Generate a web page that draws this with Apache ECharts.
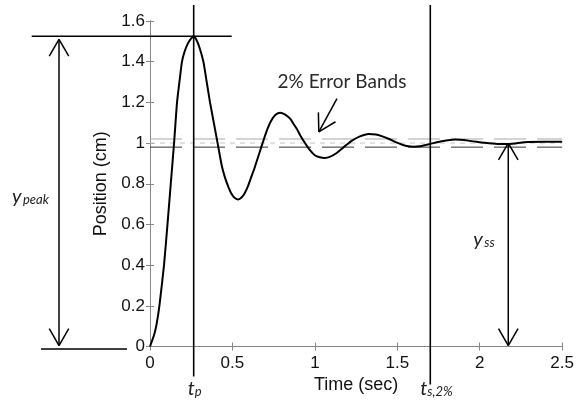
<!DOCTYPE html>
<html>
<head>
<meta charset="utf-8">
<script src="https://cdn.jsdelivr.net/npm/echarts@6/dist/echarts.min.js"></script>
<style>
html,body{margin:0;padding:0;background:#fff;}
#c{width:577px;height:401px;}
</style>
</head>
<body>
<div id="c"></div>
<script>
// ---- data ----
const timeSec = [0,0.026,0.04,0.057,0.085,0.106,0.126,0.146,0.164,0.18,0.194,0.21,0.23,0.25,0.265,0.28,0.30,0.324,0.344,0.364,0.387,0.41,0.435,0.455,0.475,0.495,0.515,0.535,0.555,0.575,0.595,0.615,0.635,0.655,0.675,0.695,0.715,0.735,0.76,0.79,0.82,0.85,0.87,0.89,0.91,0.94,0.97,1.00,1.03,1.06,1.09,1.13,1.16,1.19,1.225,1.27,1.325,1.37,1.405,1.45,1.49,1.53,1.566,1.60,1.637,1.67,1.70,1.77,1.85,1.93,2.03,2.11,2.18,2.27,2.39,2.50];
const position = [0,0.06,0.11,0.20,0.40,0.60,0.80,1.00,1.20,1.31,1.40,1.45,1.49,1.515,1.525,1.51,1.47,1.40,1.30,1.20,1.10,1.00,0.89,0.83,0.785,0.75,0.73,0.723,0.732,0.755,0.79,0.835,0.88,0.93,0.98,1.03,1.075,1.11,1.138,1.149,1.14,1.12,1.095,1.07,1.04,1.00,0.965,0.94,0.93,0.927,0.932,0.95,0.97,0.99,1.012,1.032,1.045,1.042,1.034,1.02,1.005,0.992,0.984,0.982,0.984,0.99,0.996,1.009,1.017,1.012,1.001,0.996,0.996,1.004,1.006,1.006];
const bandLevels = [1.02, 1.0, 0.98];
const xTicks = [0, 0.5, 1, 1.5, 2, 2.5];
const yTicks = [0, 0.2, 0.4, 0.6, 0.8, 1, 1.2, 1.4, 1.6];
const peakTime = 0.265;       // t_p
const settleTime = 1.70;      // t_s,2%
const peakValue = 1.525;      // y_peak
const steadyValue = 1.0;      // y_ss
const steadyArrowTime = 2.173;
const bandArrowTip = [1.024, 1.055];
const bandArrowTail = [1.134, 1.218];

(function(){
const chart = echarts.init(document.getElementById('c'), null, {renderer:'canvas'});
const tickFont = {fontFamily:'Liberation Sans, Arial, sans-serif', fontSize:17, color:'#111'};
const frameLine = {show:true, lineStyle:{color:'#888', width:1}};

const series = [{
  type:'line', data: timeSec.map((t,i)=>[t, position[i]]), showSymbol:false, smooth:0.2,
  lineStyle:{color:'#000', width:2}, z:5, animation:false
}];
const bandStyles = [
  {color:'#a8a8a8', width:1, type:[32,11]},
  {color:'#c4c4c4', width:1, type:[5,5]},
  {color:'#333', width:1, type:[32,11]}
];
bandLevels.forEach((lv,i)=>{
  series.push({type:'line', data:[[xTicks[0], lv],[xTicks[xTicks.length-1], lv]], showSymbol:false,
    lineStyle:bandStyles[i], z:3, animation:false, silent:true});
});

chart.setOption({
  animation:false,
  grid:{left:150, right:12, top:21, bottom:54.5},
  xAxis:[{
    type:'value', min:xTicks[0], max:xTicks[xTicks.length-1], interval:0.5,
    name:'Time (sec)', nameLocation:'middle', nameGap:25,
    nameTextStyle:{fontFamily:'Liberation Sans, Arial, sans-serif', fontSize:18, color:'#111'},
    axisLine:frameLine, axisTick:{inside:true, length:4, lineStyle:{color:'#888'}},
    axisLabel:Object.assign({margin:8}, tickFont), splitLine:{show:false}
  },{
    type:'value', position:'top', min:xTicks[0], max:xTicks[xTicks.length-1], interval:0.5,
    axisLine:frameLine, axisTick:{inside:true, length:4, lineStyle:{color:'#888'}},
    axisLabel:{show:false}, splitLine:{show:false}
  }],
  yAxis:[{
    type:'value', min:yTicks[0], max:yTicks[yTicks.length-1], interval:0.2,
    name:'Position (cm)', nameLocation:'middle', nameGap:34, nameRotate:90,
    nameTextStyle:{fontFamily:'Liberation Sans, Arial, sans-serif', fontSize:18, color:'#111'},
    axisLine:frameLine, axisTick:{inside:true, length:4, lineStyle:{color:'#888'}},
    axisLabel:Object.assign({margin:5}, tickFont), splitLine:{show:false}
  },{
    type:'value', position:'right', min:yTicks[0], max:yTicks[yTicks.length-1], interval:0.2,
    axisLine:frameLine, axisTick:{inside:true, length:4, lineStyle:{color:'#888'}},
    axisLabel:{show:false}, splitLine:{show:false}
  }],
  series: series
});

// ---- annotations positioned through the chart's own scales ----
const P = (t,y) => chart.convertToPixel({xAxisIndex:0, yAxisIndex:0}, [t,y]);
const g = [];
const ln = (x1,y1,x2,y2,w,c) => g.push({type:'line', shape:{x1,y1,x2,y2}, style:{stroke:c||'#000', lineWidth:w||1.5}, z:10});
function head(tip, tail){
  const dx = tail[0]-tip[0], dy = tail[1]-tip[1];
  const L = Math.hypot(dx,dy), ux = dx/L, uy = dy/L, len = 19.5, a = 30*Math.PI/180;
  [a,-a].forEach(ang=>{
    const rx = ux*Math.cos(ang) - uy*Math.sin(ang), ry = ux*Math.sin(ang) + uy*Math.cos(ang);
    ln(tip[0], tip[1], tip[0]+rx*len, tip[1]+ry*len, 1.5);
  });
}
const y0 = P(0,0)[1];
const yPk = P(0,peakValue)[1];
const xTp = P(peakTime,0)[0];
const xTs = P(settleTime,0)[0];
const yTop = P(0,1.6)[1];
// vertical lines at t_p and t_s
ln(xTp, yTop-16, xTp, y0+30, 1.6);
ln(xTs, yTop-16, xTs, y0+38, 1.6);
// horizontal line at y_peak and base line
ln(xTp-162, yPk, xTp+38, yPk, 1.6);
ln(41, y0+2.5, 127, y0+2.5, 1.6);
// y_peak double arrow
const xa = 59;
ln(xa, yPk+3, xa, y0-1, 1.5);
head([xa, yPk+3],[xa, y0]);
head([xa, y0-1],[xa, yPk]);
// y_ss double arrow
const pSS = P(steadyArrowTime, steadyValue);
ln(pSS[0], pSS[1], pSS[0], y0-1, 1.5);
head([pSS[0], pSS[1]],[pSS[0], y0]);
head([pSS[0], y0-1],[pSS[0], pSS[1]]);
// error band arrow
const bt = P(bandArrowTip[0], bandArrowTip[1]), bl = P(bandArrowTail[0], bandArrowTail[1]);
ln(bl[0], bl[1], bt[0], bt[1], 1.5);
head(bt, bl);

const annFont = 'Lato, "Open Sans", sans-serif';
g.push({type:'text', x:bl[0]+5, y:bl[1]-17, style:{text:'2% Error Bands', font:'19px '+annFont, fill:'#2a2a2a', textAlign:'center', textVerticalAlign:'middle'}, z:10});
function subLabel(x, base, main, sub, dx){
  g.push({type:'text', x:x, y:base-5, style:{text:main, font:'italic 20px '+annFont, fill:'#222', textVerticalAlign:'middle'}, z:10});
  g.push({type:'text', x:x+dx, y:base-2, style:{text:sub, font:'italic 13px '+annFont, fill:'#222', textVerticalAlign:'middle'}, z:10});
}
subLabel(12, 202, 'y', 'peak', 11);
subLabel(pSS[0]-35, 245, 'y', 'ss', 11);
subLabel(xTp-6, 394, 't', 'p', 7);
subLabel(xTs-10, 394, 't', 's,2%', 7);

chart.setOption({graphic: g});
})();
</script>
</body>
</html>
